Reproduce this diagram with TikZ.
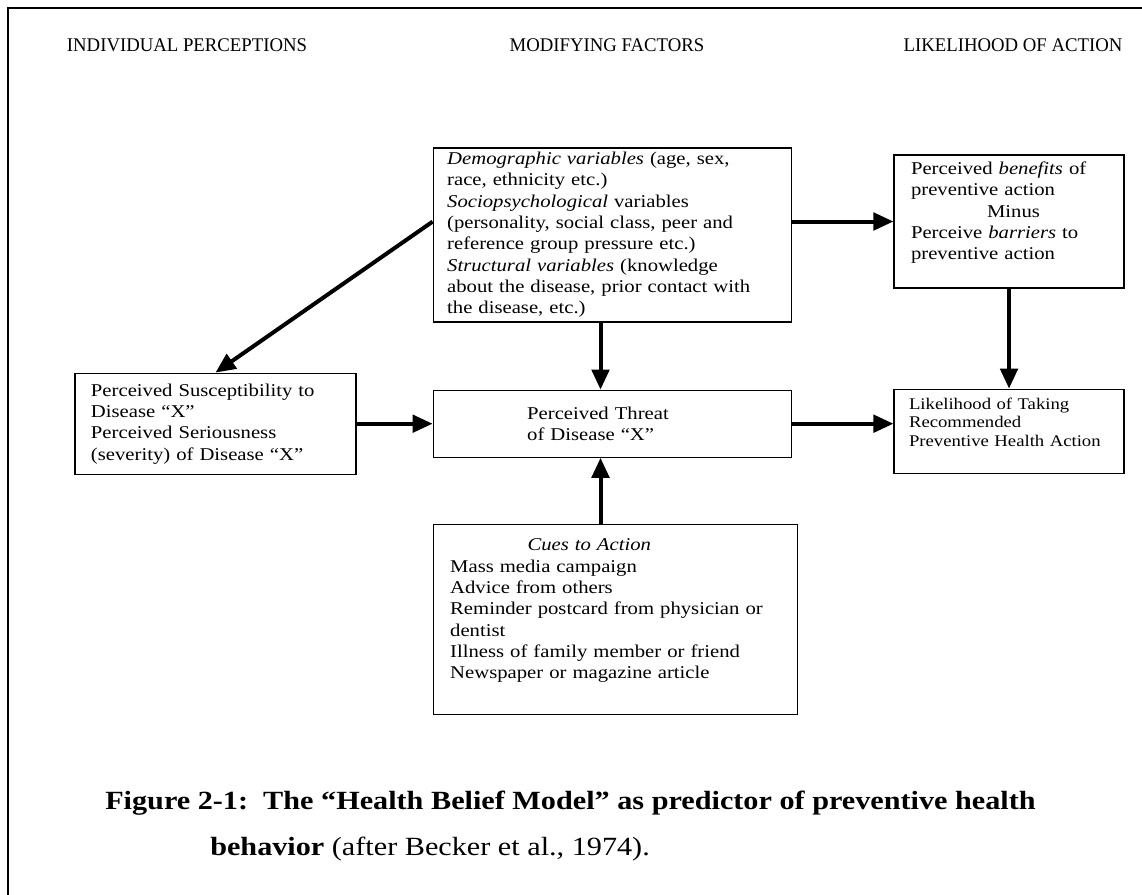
\documentclass[tikz,border=0pt]{standalone}
\usepackage{fontspec}
\setmainfont{Liberation Serif}[FakeStretch=1.15]
\newfontfamily\hdrfont[FakeStretch=0.97]{Liberation Serif}
\usetikzlibrary{positioning, arrows.meta}

\begin{document}
\begin{tikzpicture}[x=0.75pt, y=-0.75pt, node distance=50pt,
  box/.style={draw, line width=0.9pt, align=left, inner ysep=3pt, font=\fontsize{13.5}{16}\selectfont},
  arr/.style={-{Triangle[length=15pt,width=13pt]}, line width=3pt},
  hdr/.style={font=\hdrfont\fontsize{14.5}{16}\selectfont},
  figcap/.style={align=left, inner sep=0pt, font=\fontsize{19.7}{35}\selectfont}]
\useasboundingbox (0,0) rectangle (1142,895);
\draw[line width=1.5pt] (1142,8) -- (8,8) -- (8,895);

% column headings
\node[hdr] (hind) at (187,45) {INDIVIDUAL PERCEPTIONS};
\node[hdr] (hmod) at (607,45) {MODIFYING FACTORS};
\node[hdr] (hlik) at (1013,45) {LIKELIHOOD OF ACTION};

\node[box, text width=248pt, inner xsep=10.5pt, minimum height=130.5pt] (mod) at (612.5,235)
  {\textit{Demographic variables} (age, sex,\\ race, ethnicity etc.)\\
   \textit{Sociopsychological} variables\\ (personality, social class, peer and\\
   reference group pressure etc.)\\ \textit{Structural variables} (knowledge\\
   about the disease, prior contact with\\ the disease, etc.)};
\node[box, text width=147pt, inner xsep=12.75pt, minimum height=99.75pt] (benef) [below right=5.25pt and 75.75pt of mod.north east]
  {Perceived \textit{benefits} of\\ preventive action\\ \hspace*{57pt}Minus\\
   Perceive \textit{barriers} to\\ preventive action\\ \mbox{}};
\node[box, text width=150pt, inner xsep=11.25pt, minimum height=63pt, font=\fontsize{12.2}{13.75}\selectfont] (likely) [below=75pt of benef]
  {Likelihood of Taking\\ Recommended\\ Preventive Health Action\\ \mbox{}};
\node[box, text width=128pt, inner xsep=70.5pt, minimum height=50.25pt] (threat) [below=50.25pt of mod]
  {Perceived Threat\\ of Disease “X”};
\node[box, text width=186.75pt, inner xsep=12pt, minimum height=75.75pt] (suscept) [left=57pt of threat]
  {Perceived Susceptibility to\\ Disease “X”\\ Perceived Seriousness\\ (severity) of Disease “X”};
\node[box, text width=248pt, inner xsep=12.75pt, minimum height=142.5pt] (cues) [below=49.5pt of threat.south west, anchor=north west]
  {\hspace*{58pt}\textit{Cues to Action}\\ Mass media campaign\\ Advice from others\\
   Reminder postcard from physician or\\ dentist\\ Illness of family member or friend\\
   Newspaper or magazine article\\ \mbox{}};

\path[arr]
  ([yshift=10pt]mod.west) edge (suscept.north)
  ([xshift=-9pt]mod.south) edge ([xshift=-9pt]threat.north)
  ([xshift=-9pt]threat.south |- cues.north) edge ([xshift=-9pt]threat.south)
  (benef.west -| mod.east) edge (benef.west)
  (benef.south) edge (likely.north)
  (suscept.east) edge (threat.west)
  (threat.east) edge (threat.east -| likely.west);

\node[figcap, anchor=west] (caption) at (105,826)
  {\textbf{Figure 2-1:\ \ The “Health Belief Model” as predictor of preventive health}\\
   \hspace*{78.75pt}\textbf{behavior} (after Becker et al., 1974).};
\end{tikzpicture}
\end{document}
